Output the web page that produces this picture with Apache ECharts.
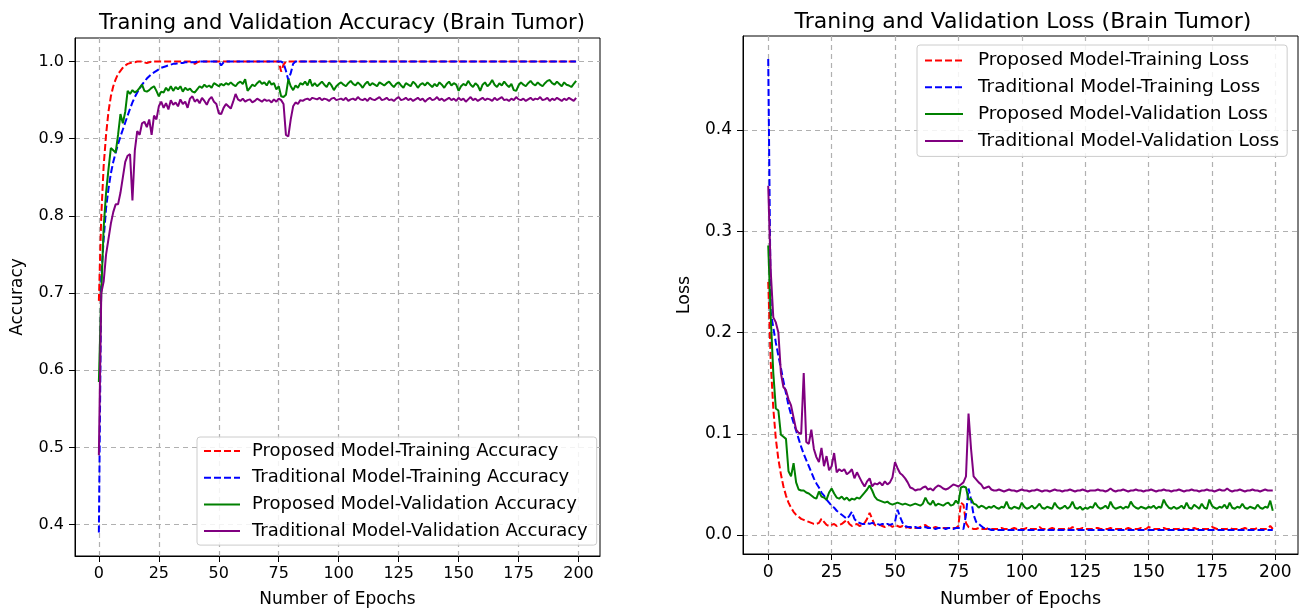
<!DOCTYPE html>
<html><head><meta charset="utf-8">
<script src="https://cdn.jsdelivr.net/npm/echarts@6/dist/echarts.min.js"></script>
<style>html,body{margin:0;padding:0;background:#fff}#c{width:1301px;height:613px}</style>
</head><body><div id="c"></div>
<script>
// ---------- Data (epochs 0..199) ----------
const epochs = Array.from({length:200},(_, i)=>i);
const xTicks = [0,25,50,75,100,125,150,175,200];
const accTicks = [0.4,0.5,0.6,0.7,0.8,0.9,1.0];
const lossTicks = [0.0,0.1,0.2,0.3,0.4];
const accNames = ['Proposed Model-Training Accuracy','Traditional Model-Training Accuracy','Proposed Model-Validation Accuracy','Traditional Model-Validation Accuracy'];
const lossNames = ['Proposed Model-Training Loss','Traditional Model-Training Loss','Proposed Model-Validation Loss','Traditional Model-Validation Loss'];

const propTrainAcc = [
0.69,0.80,0.865,0.905,0.935,0.955,0.968,0.977,0.984,0.988,
0.992,0.995,0.997,0.998,0.999,0.999,1.0,1.0,1.0,0.999,
0.998,0.999,1.0,1.0,1.0,1.0,1.0,1.0,1.0,1.0,
1.0,1.0,1.0,1.0,1.0,1.0,1.0,1.0,1.0,0.999,
0.997,0.999,1.0,1.0,1.0,1.0,1.0,1.0,1.0,1.0,
1.0,1.0,1.0,1.0,1.0,1.0,1.0,1.0,1.0,1.0,
1.0,1.0,1.0,1.0,1.0,1.0,1.0,1.0,1.0,1.0,
1.0,1.0,1.0,1.0,1.0,1.0,0.987,0.996,1.0,1.0,
1.0,1.0,1.0,1.0,1.0,1.0,1.0,1.0,1.0,1.0,
1.0,1.0,1.0,1.0,1.0,1.0,1.0,1.0,1.0,1.0,
1.0,1.0,1.0,1.0,1.0,1.0,1.0,1.0,1.0,1.0,
1.0,1.0,1.0,1.0,1.0,1.0,1.0,1.0,1.0,1.0,
1.0,1.0,1.0,1.0,1.0,1.0,1.0,1.0,1.0,1.0,
1.0,1.0,1.0,1.0,1.0,1.0,1.0,1.0,1.0,1.0,
1.0,1.0,1.0,1.0,1.0,1.0,1.0,1.0,1.0,1.0,
1.0,1.0,1.0,1.0,1.0,1.0,1.0,1.0,1.0,1.0,
1.0,1.0,1.0,1.0,1.0,1.0,1.0,1.0,1.0,1.0,
1.0,1.0,1.0,1.0,1.0,1.0,1.0,1.0,1.0,1.0,
1.0,1.0,1.0,1.0,1.0,1.0,1.0,1.0,1.0,1.0,
1.0,1.0,1.0,1.0,1.0,1.0,1.0,1.0,1.0,1.0];

const tradTrainAcc = [
0.39,0.72,0.77,0.81,0.835,0.855,0.87,0.882,0.893,0.903,
0.912,0.921,0.93,0.939,0.947,0.954,0.96,0.965,0.97,0.974,
0.978,0.981,0.984,0.986,0.988,0.99,0.992,0.993,0.994,0.995,
0.996,0.997,0.997,0.998,0.998,0.998,0.999,0.999,0.999,0.999,
0.999,1.0,1.0,1.0,1.0,1.0,1.0,1.0,1.0,1.0,
1.0,0.995,0.999,1.0,1.0,1.0,1.0,1.0,1.0,1.0,
1.0,1.0,1.0,1.0,1.0,1.0,1.0,1.0,1.0,1.0,
1.0,1.0,1.0,1.0,1.0,1.0,1.0,0.998,0.988,0.976,
0.985,0.997,1.0,1.0,1.0,1.0,1.0,1.0,1.0,1.0,
1.0,1.0,1.0,1.0,1.0,1.0,1.0,1.0,1.0,1.0,
1.0,1.0,1.0,1.0,1.0,1.0,1.0,1.0,1.0,1.0,
1.0,1.0,1.0,1.0,1.0,1.0,1.0,1.0,1.0,1.0,
1.0,1.0,1.0,1.0,1.0,1.0,1.0,1.0,1.0,1.0,
1.0,1.0,1.0,1.0,1.0,1.0,1.0,1.0,1.0,1.0,
1.0,1.0,1.0,1.0,1.0,1.0,1.0,1.0,1.0,1.0,
1.0,1.0,1.0,1.0,1.0,1.0,1.0,1.0,1.0,1.0,
1.0,1.0,1.0,1.0,1.0,1.0,1.0,1.0,1.0,1.0,
1.0,1.0,1.0,1.0,1.0,1.0,1.0,1.0,1.0,1.0,
1.0,1.0,1.0,1.0,1.0,1.0,1.0,1.0,1.0,1.0,
1.0,1.0,1.0,1.0,1.0,1.0,1.0,1.0,1.0,1.0];

const propValAcc = [
0.585,0.70,0.785,0.83,0.86,0.888,0.885,0.882,0.905,0.932,
0.92,0.935,0.962,0.958,0.963,0.96,0.962,0.966,0.97,0.962,
0.961,0.963,0.966,0.968,0.962,0.955,0.961,0.96,0.966,0.962,
0.968,0.962,0.967,0.964,0.968,0.961,0.966,0.963,0.965,0.961,
0.96,0.964,0.968,0.966,0.97,0.967,0.969,0.966,0.972,0.97,
0.968,0.971,0.969,0.972,0.97,0.973,0.97,0.968,0.972,0.974,
0.971,0.977,0.962,0.966,0.97,0.968,0.972,0.975,0.971,0.973,
0.969,0.975,0.97,0.972,0.964,0.968,0.955,0.954,0.957,0.977,
0.968,0.963,0.969,0.966,0.972,0.97,0.974,0.969,0.977,0.968,
0.972,0.968,0.971,0.974,0.97,0.967,0.973,0.969,0.963,0.968,
0.971,0.973,0.97,0.968,0.972,0.975,0.971,0.969,0.973,0.97,
0.966,0.971,0.974,0.969,0.972,0.97,0.968,0.973,0.971,0.969,
0.972,0.974,0.97,0.967,0.971,0.973,0.969,0.966,0.972,0.97,
0.968,0.974,0.971,0.966,0.97,0.972,0.969,0.973,0.97,0.967,
0.971,0.968,0.973,0.97,0.966,0.971,0.974,0.969,0.972,0.97,
0.962,0.968,0.971,0.969,0.975,0.97,0.967,0.972,0.969,0.962,
0.97,0.973,0.968,0.971,0.976,0.97,0.967,0.972,0.969,0.974,
0.97,0.967,0.971,0.963,0.962,0.969,0.973,0.97,0.968,0.972,
0.975,0.971,0.969,0.973,0.97,0.968,0.972,0.975,0.976,0.972,
0.97,0.974,0.971,0.968,0.973,0.97,0.969,0.967,0.971,0.975];

const tradValAcc = [
0.49,0.70,0.715,0.75,0.77,0.79,0.805,0.815,0.815,0.83,
0.85,0.87,0.878,0.88,0.82,0.885,0.91,0.905,0.92,0.922,
0.915,0.925,0.905,0.93,0.925,0.942,0.948,0.94,0.946,0.938,
0.95,0.944,0.947,0.942,0.951,0.945,0.948,0.94,0.952,0.955,
0.948,0.951,0.946,0.953,0.949,0.944,0.951,0.954,0.948,0.945,
0.933,0.932,0.94,0.945,0.942,0.939,0.948,0.958,0.951,0.949,
0.952,0.948,0.95,0.951,0.947,0.949,0.952,0.95,0.948,0.951,
0.949,0.95,0.947,0.951,0.948,0.952,0.95,0.945,0.905,0.903,
0.925,0.942,0.947,0.945,0.95,0.949,0.951,0.952,0.95,0.953,
0.952,0.951,0.953,0.95,0.952,0.951,0.949,0.952,0.953,0.95,
0.951,0.952,0.95,0.953,0.949,0.951,0.952,0.95,0.954,0.951,
0.95,0.952,0.949,0.953,0.951,0.95,0.952,0.954,0.95,0.951,
0.953,0.95,0.951,0.949,0.952,0.954,0.95,0.951,0.953,0.95,
0.952,0.949,0.951,0.953,0.95,0.952,0.948,0.951,0.953,0.95,
0.951,0.954,0.95,0.952,0.949,0.951,0.953,0.95,0.952,0.949,
0.953,0.95,0.952,0.948,0.951,0.954,0.95,0.952,0.949,0.951,
0.953,0.95,0.952,0.951,0.949,0.953,0.95,0.952,0.954,0.95,
0.951,0.949,0.952,0.95,0.954,0.951,0.95,0.952,0.949,0.951,
0.953,0.95,0.952,0.951,0.954,0.95,0.951,0.953,0.949,0.952,
0.95,0.953,0.951,0.949,0.952,0.95,0.953,0.951,0.949,0.953];

const propTrainLoss = [
0.25,0.17,0.125,0.095,0.075,0.06,0.048,0.039,0.032,0.027,
0.023,0.02,0.018,0.016,0.015,0.014,0.013,0.012,0.011,0.011,
0.012,0.016,0.013,0.01,0.009,0.01,0.011,0.009,0.01,0.011,
0.013,0.015,0.011,0.009,0.01,0.011,0.009,0.01,0.012,0.016,
0.022,0.016,0.01,0.009,0.01,0.009,0.008,0.009,0.01,0.008,
0.01,0.009,0.008,0.009,0.007,0.008,0.007,0.008,0.007,0.007,
0.008,0.009,0.01,0.008,0.007,0.007,0.008,0.007,0.007,0.007,
0.007,0.007,0.007,0.007,0.007,0.009,0.032,0.03,0.012,0.008,
0.007,0.006,0.006,0.007,0.006,0.006,0.006,0.007,0.006,0.006,
0.006,0.006,0.007,0.006,0.006,0.006,0.006,0.007,0.006,0.006,
0.006,0.006,0.007,0.006,0.006,0.006,0.006,0.008,0.006,0.006,
0.006,0.006,0.007,0.006,0.006,0.006,0.006,0.006,0.007,0.006,
0.008,0.006,0.006,0.006,0.007,0.006,0.006,0.006,0.006,0.007,
0.007,0.006,0.006,0.006,0.006,0.007,0.006,0.006,0.006,0.006,
0.006,0.006,0.007,0.006,0.006,0.006,0.006,0.007,0.006,0.006,
0.008,0.007,0.006,0.006,0.006,0.006,0.007,0.006,0.006,0.006,
0.006,0.006,0.006,0.007,0.006,0.006,0.006,0.006,0.007,0.006,
0.006,0.006,0.006,0.006,0.006,0.008,0.007,0.006,0.006,0.006,
0.006,0.006,0.007,0.006,0.006,0.006,0.006,0.006,0.007,0.006,
0.006,0.006,0.006,0.007,0.006,0.006,0.006,0.006,0.009,0.006];

const tradTrainLoss = [
0.47,0.22,0.205,0.19,0.177,0.165,0.152,0.14,0.128,0.119,
0.111,0.103,0.095,0.087,0.08,0.074,0.068,0.062,0.056,0.051,
0.047,0.042,0.039,0.035,0.032,0.029,0.027,0.024,0.022,0.02,
0.018,0.016,0.019,0.023,0.016,0.013,0.012,0.011,0.011,0.012,
0.011,0.012,0.011,0.011,0.01,0.011,0.01,0.011,0.01,0.011,
0.013,0.025,0.018,0.012,0.009,0.008,0.008,0.007,0.008,0.007,
0.007,0.007,0.008,0.007,0.007,0.007,0.006,0.007,0.007,0.007,
0.006,0.007,0.007,0.006,0.007,0.007,0.007,0.006,0.02,0.046,
0.035,0.02,0.013,0.011,0.009,0.007,0.006,0.006,0.005,0.005,
0.005,0.005,0.005,0.005,0.005,0.005,0.005,0.005,0.005,0.005,
0.005,0.005,0.005,0.005,0.005,0.005,0.005,0.005,0.005,0.005,
0.005,0.005,0.005,0.005,0.005,0.005,0.005,0.005,0.005,0.005,
0.005,0.005,0.005,0.005,0.005,0.005,0.005,0.005,0.005,0.005,
0.005,0.005,0.005,0.005,0.005,0.005,0.005,0.005,0.005,0.005,
0.005,0.005,0.005,0.005,0.005,0.005,0.005,0.005,0.005,0.005,
0.005,0.005,0.005,0.005,0.005,0.005,0.005,0.005,0.005,0.005,
0.005,0.005,0.005,0.005,0.005,0.005,0.005,0.005,0.005,0.005,
0.005,0.005,0.005,0.005,0.005,0.005,0.005,0.005,0.005,0.005,
0.005,0.005,0.005,0.005,0.005,0.005,0.005,0.005,0.005,0.005,
0.005,0.005,0.005,0.005,0.005,0.005,0.005,0.005,0.005,0.005];

const propValLoss = [
0.286,0.215,0.16,0.125,0.123,0.099,0.097,0.095,0.063,0.058,
0.071,0.052,0.045,0.044,0.044,0.042,0.041,0.039,0.037,0.036,
0.043,0.038,0.037,0.035,0.042,0.046,0.041,0.037,0.036,0.038,
0.035,0.037,0.034,0.036,0.035,0.037,0.036,0.039,0.042,0.045,
0.049,0.044,0.038,0.035,0.034,0.033,0.032,0.033,0.031,0.03,
0.031,0.032,0.031,0.03,0.031,0.03,0.029,0.03,0.031,0.03,
0.029,0.031,0.037,0.032,0.03,0.034,0.029,0.031,0.03,0.029,
0.031,0.032,0.029,0.03,0.034,0.031,0.047,0.048,0.047,0.035,
0.036,0.031,0.03,0.027,0.029,0.028,0.026,0.028,0.027,0.029,
0.027,0.026,0.028,0.027,0.033,0.027,0.026,0.028,0.027,0.026,
0.032,0.028,0.026,0.027,0.029,0.026,0.028,0.031,0.027,0.026,
0.028,0.027,0.026,0.032,0.028,0.026,0.027,0.029,0.026,0.028,
0.033,0.027,0.026,0.028,0.025,0.027,0.026,0.028,0.027,0.032,
0.028,0.026,0.027,0.029,0.026,0.033,0.028,0.026,0.027,0.028,
0.026,0.028,0.027,0.033,0.029,0.027,0.026,0.028,0.027,0.026,
0.028,0.027,0.029,0.026,0.028,0.027,0.035,0.03,0.027,0.026,
0.028,0.026,0.027,0.029,0.026,0.032,0.027,0.026,0.03,0.028,
0.026,0.031,0.027,0.026,0.035,0.029,0.027,0.026,0.028,0.027,
0.03,0.026,0.032,0.027,0.026,0.028,0.027,0.031,0.027,0.026,
0.028,0.027,0.026,0.03,0.027,0.026,0.028,0.027,0.034,0.024];

const tradValLoss = [
0.345,0.26,0.215,0.21,0.2,0.16,0.146,0.143,0.134,0.128,
0.116,0.104,0.101,0.1,0.16,0.092,0.09,0.104,0.085,0.077,
0.072,0.086,0.068,0.078,0.064,0.068,0.081,0.062,0.065,0.063,
0.065,0.06,0.062,0.065,0.056,0.062,0.057,0.052,0.048,0.053,
0.056,0.048,0.051,0.05,0.052,0.049,0.053,0.05,0.052,0.057,
0.072,0.066,0.061,0.059,0.056,0.052,0.047,0.046,0.044,0.045,
0.045,0.047,0.048,0.045,0.046,0.044,0.047,0.049,0.048,0.046,
0.045,0.046,0.048,0.05,0.049,0.048,0.05,0.052,0.058,0.12,
0.085,0.058,0.055,0.052,0.05,0.046,0.047,0.048,0.045,0.044,
0.044,0.045,0.044,0.043,0.044,0.045,0.044,0.044,0.043,0.044,
0.045,0.044,0.044,0.043,0.044,0.044,0.045,0.044,0.043,0.044,
0.044,0.043,0.044,0.045,0.044,0.044,0.043,0.044,0.044,0.045,
0.044,0.043,0.044,0.044,0.045,0.044,0.043,0.044,0.044,0.044,
0.045,0.044,0.044,0.043,0.044,0.046,0.044,0.043,0.044,0.044,
0.045,0.044,0.043,0.044,0.044,0.045,0.044,0.044,0.043,0.044,
0.044,0.045,0.044,0.043,0.044,0.044,0.045,0.044,0.044,0.043,
0.044,0.044,0.045,0.044,0.043,0.044,0.044,0.045,0.044,0.044,
0.043,0.044,0.044,0.045,0.044,0.044,0.043,0.044,0.045,0.044,
0.044,0.046,0.044,0.043,0.044,0.044,0.045,0.044,0.043,0.044,
0.044,0.045,0.044,0.044,0.043,0.044,0.045,0.044,0.044,0.044];

// ---------- Chart ----------
const FONT = 'DejaVu Sans';
const colors = ['#ff0000','#0000ff','#008000','#800080'];
const dashes = [[7,3],[7,3],'solid','solid'];
const chart = echarts.init(document.getElementById('c'), null, {renderer:'canvas'});

function pairs(arr){ return arr.map((v,i)=>[epochs[i], v]); }

function xAxisCfg(gi, fs, nfs, gap){
  return {
    type:'value', gridIndex:gi, min:-9.95, max:208.95,
    name:'Number of Epochs', nameLocation:'middle', nameGap:gap,
    nameTextStyle:{fontFamily:FONT, fontSize:nfs, color:'#000'},
    axisLine:{show:true, onZero:false, lineStyle:{color:'#000', width:1}},
    axisTick:{show:true, length:6, customValues:xTicks, lineStyle:{color:'#000'}},
    axisLabel:{customValues:xTicks, fontFamily:FONT, fontSize:fs, color:'#000', margin:10, formatter:v=>String(v)},
    splitLine:{show:true, lineStyle:{color:'#b0b0b0', width:1.2, type:[5,4]}}
  };
}
function yAxisCfg(gi, fs, nfs, name, mn, mx, ticks, gap){
  return {
    type:'value', gridIndex:gi, min:mn, max:mx,
    name:name, nameLocation:'middle', nameGap:gap,
    nameTextStyle:{fontFamily:FONT, fontSize:nfs, color:'#000'},
    axisLine:{show:true, onZero:false, lineStyle:{color:'#000', width:1}},
    axisTick:{show:true, length:6, customValues:ticks, lineStyle:{color:'#000'}},
    axisLabel:{customValues:ticks, fontFamily:FONT, fontSize:fs, color:'#000', margin:11, formatter:v=>v.toFixed(1)},
    splitLine:{show:true, lineStyle:{color:'#b0b0b0', width:1.2, type:[5,4]}}
  };
}

const series = [];
const accData = [propTrainAcc, tradTrainAcc, propValAcc, tradValAcc];
const lossData = [propTrainLoss, tradTrainLoss, propValLoss, tradValLoss];
accData.forEach((d,k)=>series.push({
  name:accNames[k], type:'line', xAxisIndex:0, yAxisIndex:0, data:pairs(d),
  symbol:'none', showSymbol:false, smooth:false, lineStyle:{color:colors[k], width:2, type:dashes[k]}, itemStyle:{color:colors[k]}
}));
lossData.forEach((d,k)=>series.push({
  name:lossNames[k], type:'line', xAxisIndex:1, yAxisIndex:1, data:pairs(d),
  symbol:'none', showSymbol:false, smooth:false, lineStyle:{color:colors[k], width:2, type:dashes[k]}, itemStyle:{color:colors[k]}
}));

function legendCfg(names, left, top, fs, iw, pad, tpad, lh, gap){
  return {
    show:true, data:names, orient:'vertical', left:left, top:top,
    itemWidth:iw, itemHeight:14, itemGap:gap,
    padding:pad,
    itemStyle:{opacity:0},
    backgroundColor:'rgba(255,255,255,0.85)', borderColor:'#cccccc', borderWidth:1, borderRadius:3,
    textStyle:{fontFamily:FONT, fontSize:fs, color:'#000', lineHeight:lh, padding:[0,0,0,tpad]},
    selectedMode:false
  };
}

chart.setOption({
  animation:false,
  backgroundColor:'#fff',
  title:[
    {text:'Traning and Validation Accuracy (Brain Tumor)', left:337, top:8, textAlign:'center',
     textStyle:{fontFamily:FONT, fontSize:21, fontWeight:'normal', color:'#000'}},
    {text:'Traning and Validation Loss (Brain Tumor)', left:1018, top:6, textAlign:'center',
     textStyle:{fontFamily:FONT, fontSize:22, fontWeight:'normal', color:'#000'}}
  ],
  legend:[
    legendCfg(accNames, 197, 437, 18, 36, [5,9,5,6], 7, 18, 8.7),
    legendCfg(lossNames, 917, 45, 18.5, 38, [6,8,6,7], 10, 18.5, 7.8)
  ],
  grid:[
    {left:75, top:38, width:525, height:523, show:true, borderColor:'#000', borderWidth:1, backgroundColor:'transparent'},
    {left:743, top:36, width:555, height:519, show:true, borderColor:'#000', borderWidth:1, backgroundColor:'transparent'}
  ],
  xAxis:[xAxisCfg(0,16,17,35), xAxisCfg(1,17,17.5,36)],
  yAxis:[
    yAxisCfg(0,16,17,'Accuracy',0.3595,1.0305,accTicks,49),
    yAxisCfg(1,17,17.5,'Loss',-0.0187,0.4928,lossTicks,50)
  ],
  series:series
});
</script></body></html>
